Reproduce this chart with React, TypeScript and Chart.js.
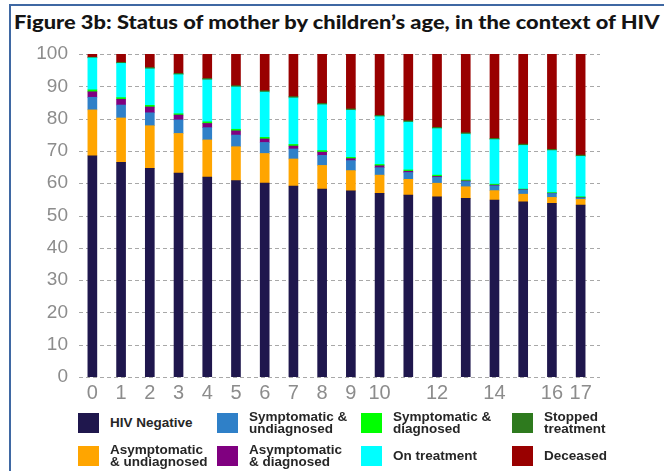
import React, { useEffect, useLayoutEffect, useRef } from "react";
import { Chart, registerables } from "chart.js";

Chart.register(...registerables);

const ages = ["0", "1", "2", "3", "4", "5", "6", "7", "8", "9", "10", "11", "12", "13", "14", "15", "16", "17"];
const shownAgeLabels = ["0", "1", "2", "3", "4", "5", "6", "7", "8", "9", "10", "12", "14", "16", "17"];

const hivNegative = [68.5, 66.5, 64.6, 63.1, 61.9, 60.8, 60.0, 59.1, 58.2, 57.6, 56.9, 56.3, 55.8, 55.3, 54.8, 54.2, 53.8, 53.2];
const asymptomaticUndiagnosed = [14.2, 13.7, 13.2, 12.3, 11.5, 10.5, 9.2, 8.4, 7.3, 6.3, 5.6, 4.9, 4.2, 3.6, 2.9, 2.4, 1.8, 1.8];
const symptomaticUndiagnosed = [3.9, 4.0, 4.0, 4.2, 3.8, 3.6, 3.4, 3.1, 3.1, 3.1, 2.3, 2.1, 1.8, 1.6, 1.5, 1.3, 1.2, 0.4];
const asymptomaticDiagnosed = [1.7, 1.8, 1.8, 1.5, 1.3, 1.3, 1.1, 0.9, 1.0, 0.6, 0.6, 0.4, 0.3, 0.2, 0.2, 0.1, 0.1, 0.1];
const symptomaticDiagnosed = [0.6, 0.5, 0.5, 0.4, 0.5, 0.5, 0.5, 0.5, 0.5, 0.4, 0.4, 0.4, 0.4, 0.3, 0.3, 0.2, 0.2, 0.3];
const onTreatment = [9.9, 10.6, 11.3, 12.1, 13.0, 13.1, 14.0, 14.4, 14.2, 14.6, 14.8, 14.8, 14.4, 14.2, 13.8, 13.5, 13.0, 12.5];
const stoppedTreatment = [0.2, 0.3, 0.4, 0.4, 0.4, 0.4, 0.4, 0.4, 0.4, 0.4, 0.4, 0.4, 0.4, 0.4, 0.4, 0.4, 0.4, 0.4];
const deceased = [1.0, 2.6, 4.2, 6.0, 7.6, 9.8, 11.4, 13.2, 15.3, 17.0, 19.0, 20.7, 22.7, 24.4, 26.1, 27.9, 29.5, 31.3];

const seriesNames = [
  "HIV Negative",
  "Asymptomatic & undiagnosed",
  "Symptomatic & undiagnosed",
  "Asymptomatic & diagnosed",
  "Symptomatic & diagnosed",
  "On treatment",
  "Stopped treatment",
  "Deceased",
];
const legendLabels = [
  "HIV Negative",
  "Asymptomatic\n& undiagnosed",
  "Symptomatic &\nundiagnosed",
  "Asymptomatic\n& diagnosed",
  "Symptomatic &\ndiagnosed",
  "On treatment",
  "Stopped\ntreatment",
  "Deceased",
];
const seriesColors = ["#1f174d", "#ffa500", "#2f80c8", "#800080", "#00ff00", "#00ffff", "#2e7a1e", "#990000"];
const seriesValues = [
  hivNegative,
  asymptomaticUndiagnosed,
  symptomaticUndiagnosed,
  asymptomaticDiagnosed,
  symptomaticDiagnosed,
  onTreatment,
  stoppedTreatment,
  deceased,
];

const yTicks = [0, 10, 20, 30, 40, 50, 60, 70, 80, 90, 100];

const TITLE = "Figure 3b: Status of mother by children\u2019s age, in the context of HIV";

const dashedGrid = {
  id: "dashedGrid",
  beforeDatasetsDraw(chart: any) {
    const { ctx, chartArea, scales } = chart;
    const y = scales.y;
    ctx.save();
    ctx.strokeStyle = "#a8a8a8";
    ctx.lineWidth = 1;
    ctx.setLineDash([4, 3]);
    yTicks.forEach((v) => {
      const py = Math.round(y.getPixelForValue(v)) + 0.5;
      ctx.beginPath();
      ctx.moveTo(chartArea.left + 1, py);
      ctx.lineTo(chartArea.right + 5, py);
      ctx.stroke();
    });
    ctx.restore();
  },
};

export default function App() {
  const canvasRef = useRef<HTMLCanvasElement | null>(null);
  const titleRef = useRef<HTMLSpanElement | null>(null);

  useLayoutEffect(() => {
    const fit = () => {
      const el = titleRef.current;
      if (!el) return;
      el.style.transform = "none";
      const w = el.offsetWidth;
      if (w > 0) el.style.transform = `scaleX(${646 / w})`;
    };
    fit();
    if ((document as any).fonts && (document as any).fonts.ready) {
      (document as any).fonts.ready.then(fit);
    }
  }, []);

  useEffect(() => {
    const canvas = canvasRef.current;
    if (!canvas) return;
    const chart = new Chart(canvas, {
      type: "bar",
      data: {
        labels: ages,
        datasets: seriesValues.map((vals, i) => ({
          label: seriesNames[i],
          data: vals,
          backgroundColor: seriesColors[i],
          borderWidth: 0,
          barThickness: 9,
        })),
      },
      plugins: [dashedGrid],
      options: {
        responsive: false,
        animation: false,
        devicePixelRatio: 1,
        layout: { padding: { top: 54, right: 69, left: 0, bottom: 0 } },
        plugins: {
          legend: { display: false },
          title: { display: false },
          tooltip: { enabled: false },
        },
        scales: {
          x: {
            stacked: true,
            grid: { display: false, drawTicks: false },
            border: { display: false },
            ticks: {
              autoSkip: false,
              maxRotation: 0,
              minRotation: 0,
              padding: 4,
              color: "#8c8c8c",
              font: { family: "'Liberation Sans', Arial, sans-serif", size: 20 },
              callback: (value: any, index: number) => {
                const lab = ages[index];
                return shownAgeLabels.includes(lab) ? lab : "";
              },
            },
            afterFit: (scale: any) => {
              scale.height = 33;
            },
          },
          y: {
            stacked: true,
            min: 0,
            max: 100,
            grid: { display: false, drawTicks: false },
            border: { display: false },
            ticks: {
              stepSize: 10,
              padding: 10,
              color: "#8c8c8c",
              font: { family: "'Liberation Sans', Arial, sans-serif", size: 19 },
              callback: (value: any) => (yTicks.includes(Number(value)) ? String(value) : ""),
            },
            afterFit: (scale: any) => {
              scale.width = 78;
            },
          },
        },
      },
    });
    return () => chart.destroy();
  }, []);

  const colX = [78, 217, 361, 512];
  const rowY = [413, 446];

  return (
    <div
      style={{
        position: "fixed",
        left: 0,
        top: 0,
        width: 664,
        height: 471,
        background: "#ffffff",
        overflow: "hidden",
      }}
    >
      <div style={{ position: "absolute", left: 9, top: 4, width: 655, height: 2, background: "#3f68a3" }} />
      <div style={{ position: "absolute", left: 9, top: 4, width: 2, height: 467, background: "#3f68a3" }} />
      <div
        style={{
          position: "absolute",
          left: 14,
          top: 12,
          height: 19,
          lineHeight: "19px",
          whiteSpace: "nowrap",
        }}
      >
        <span
          ref={titleRef}
          style={{
            display: "inline-block",
            fontFamily: "Lato, 'Open Sans', sans-serif",
            fontWeight: 900,
            fontSize: 19,
            color: "#141414",
            transformOrigin: "0 0",
          }}
        >
          {TITLE}
        </span>
      </div>
      <canvas
        ref={canvasRef}
        width={664}
        height={410}
        style={{ position: "absolute", left: 0, top: 0, width: 664, height: 410 }}
      />
      {legendLabels.map((lab, i) => {
        const col = Math.floor(i / 2);
        const row = i % 2;
        return (
          <div
            key={i}
            style={{
              position: "absolute",
              left: colX[col],
              top: rowY[row],
              height: 20,
              display: "flex",
              alignItems: "center",
            }}
          >
            <div style={{ width: 21, height: 20, background: seriesColors[i], flex: "0 0 auto" }} />
            <div
              style={{
                marginLeft: 11,
                whiteSpace: "pre-line",
                fontFamily: "'Liberation Sans', Arial, sans-serif",
                fontWeight: 700,
                fontSize: 13.5,
                lineHeight: "12px",
                color: "#262626",
              }}
            >
              {lab}
            </div>
          </div>
        );
      })}
    </div>
  );
}
